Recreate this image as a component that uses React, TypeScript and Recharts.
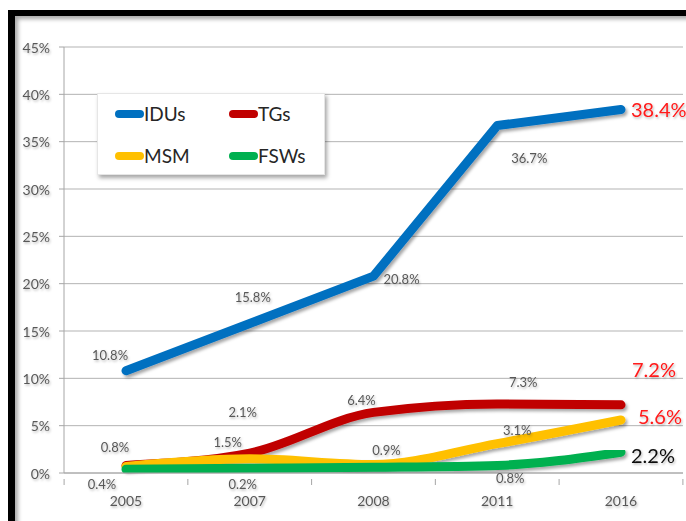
import React from 'react';
import { LineChart, Line, XAxis, YAxis, CartesianGrid, LabelList } from 'recharts';

const years = ['2005', '2007', '2008', '2011', '2016'];
const idus = [10.8, 15.8, 20.8, 36.7, 38.4];
const tgs = [0.8, 2.1, 6.4, 7.3, 7.2];
const msm = [0.7, 1.5, 0.9, 3.1, 5.6];
const fsws = [0.4, 0.5, 0.6, 0.8, 2.2];
const yTicks = [0, 5, 10, 15, 20, 25, 30, 35, 40, 45];

const idusLabels = ['10.8%', '15.8%', '20.8%', '36.7%', '38.4%'];
const tgsLabels = ['0.8%', '2.1%', '6.4%', '7.3%', '7.2%'];
const msmLabels = ['', '1.5%', '0.9%', '3.1%', '5.6%'];
const fswsLabels = ['0.4%', '0.2%', '', '0.8%', '2.2%'];

const data = years.map((year, i) => ({
  year,
  idus: idus[i],
  tgs: tgs[i],
  msm: msm[i],
  fsws: fsws[i],
}));

// label offsets from each point (dx, dy)
const series = [
  { key: 'idus', name: 'IDUs', color: '#0070C0', type: 'linear', labels: idusLabels, end: '#FF1A1A',
    off: [[-16, -16], [3, -26], [28, 3], [32, 32], [10, 0]] },
  { key: 'tgs', name: 'TGs', color: '#C00000', type: 'monotone', labels: tgsLabels, end: '#FF1A1A',
    off: [[-11, -18], [-7, -41], [-12, -12], [26, -22], [11, -36]] },
  { key: 'msm', name: 'MSM', color: '#FFC000', type: 'monotone', labels: msmLabels, end: '#FF1A1A',
    off: [[0, 0], [-22, -17], [13, -14], [20, -14], [17, -4]] },
  { key: 'fsws', name: 'FSWs', color: '#00B050', type: 'monotone', labels: fswsLabels, end: '#111111',
    off: [[-24, 15], [-7, 16], [0, 0], [13, 13], [10, 3]] },
];

const FONT = 'Lato, "Noto Sans", sans-serif';

const makeLabel = (texts: string[], off: number[][], endColor: string) => (props: any) => {
  const { x, y, index } = props;
  const t = texts[index];
  if (!t) return null;
  const isEnd = index === texts.length - 1;
  return (
    <text
      x={x + off[index][0]}
      y={y + off[index][1]}
      textAnchor={isEnd ? 'start' : 'middle'}
      dominantBaseline="central"
      fontSize={isEnd ? 20 : 13}
      fill={isEnd ? endColor : '#595959'}
      fontFamily={FONT}
      filter="url(#ts)"
    >
      {t}
    </text>
  );
};

const XTick = (props: any) => {
  const { x, y, payload, index } = props;
  return (
    <g>
      <line x1={x - 61.9} x2={x - 61.9} y1={y} y2={y + 6} stroke="#A6A6A6" />
      {index === years.length - 1 && (
        <line x1={x + 61.9} x2={x + 61.9} y1={y} y2={y + 6} stroke="#A6A6A6" />
      )}
      <text x={x} y={y + 27} textAnchor="middle" fontSize={14} fill="#595959" fontFamily={FONT} filter="url(#ts)">
        {payload.value}
      </text>
    </g>
  );
};

const YTick = (props: any) => {
  const { x, y, payload } = props;
  return (
    <text x={x} y={y} textAnchor="end" dominantBaseline="central" fontSize={14} fill="#595959" fontFamily={FONT} filter="url(#ts)">
      {payload.value}%
    </text>
  );
};

const App = () => {
  return (
    <div style={{ position: 'absolute', left: 0, top: 0, width: 686, height: 521, overflow: 'hidden', background: '#fff', fontFamily: FONT }}>
      <svg width={0} height={0} style={{ position: 'absolute' }}>
        <defs>
          <filter id="ls" x="-10%" y="-10%" width="130%" height="130%">
            <feDropShadow dx="2" dy="2.5" stdDeviation="1.5" floodColor="#000" floodOpacity="0.35" />
          </filter>
          <filter id="ts" x="-20%" y="-20%" width="150%" height="160%">
            <feDropShadow dx="1" dy="1.5" stdDeviation="0.8" floodColor="#000" floodOpacity="0.28" />
          </filter>
        </defs>
      </svg>

      {/* outer frame */}
      <div
        style={{
          position: 'absolute', left: 8, top: 10, width: 720, height: 560,
          borderLeft: '7px solid #000', borderTop: '6px solid #000',
          boxShadow: 'inset 3px 3px 4px rgba(0,0,0,0.35)',
        }}
      />

      <div style={{ position: 'absolute', left: 0, top: 0 }}>
        <LineChart width={700} height={521} data={data} margin={{ top: 47, right: 17, bottom: 8, left: 0 }}>
          <CartesianGrid vertical={false} stroke="#B3B3B3" />
          <XAxis
            dataKey="year"
            height={40}
            padding={{ left: 62, right: 62 }}
            tickLine={false}
            tickMargin={0}
            axisLine={{ stroke: '#A6A6A6' }}
            tick={<XTick />}
            interval={0}
          />
          <YAxis
            width={64}
            domain={[0, 45]}
            ticks={yTicks}
            tickSize={5}
            tickMargin={9}
            axisLine={{ stroke: '#A6A6A6' }}
            tickLine={{ stroke: '#A6A6A6' }}
            tick={<YTick />}
          />
          {series.map((s) => (
            <Line
              key={s.key}
              type={s.type as any}
              dataKey={s.key}
              name={s.name}
              stroke={s.color}
              strokeWidth={9}
              strokeLinecap="round"
              strokeLinejoin="round"
              dot={false}
              activeDot={false}
              isAnimationActive={false}
              style={{ filter: 'url(#ls)' }}
            >
              <LabelList dataKey={s.key} content={makeLabel(s.labels, s.off, s.end)} />
            </Line>
          ))}
        </LineChart>
      </div>

      {/* legend */}
      <div
        style={{
          position: 'absolute', left: 97, top: 93, width: 228, height: 82,
          background: '#fff', boxShadow: '2px 3px 4px rgba(0,0,0,0.35)',
          border: '1px solid #e6e6e6', boxSizing: 'border-box',
        }}
      >
        {series.map((s, i) => {
          const col = i % 2;
          const row = Math.floor(i / 2);
          return (
            <div
              key={s.key}
              style={{
                position: 'absolute', left: 17 + col * 114, top: 20 + row * 42 - 12,
                height: 24, display: 'flex', alignItems: 'center',
              }}
            >
              <div style={{ width: 29, height: 8, borderRadius: 4, background: s.color }} />
              <span style={{ fontSize: 19, color: '#262626', lineHeight: '24px' }}>{s.name}</span>
            </div>
          );
        })}
      </div>
    </div>
  );
};

export default App;
